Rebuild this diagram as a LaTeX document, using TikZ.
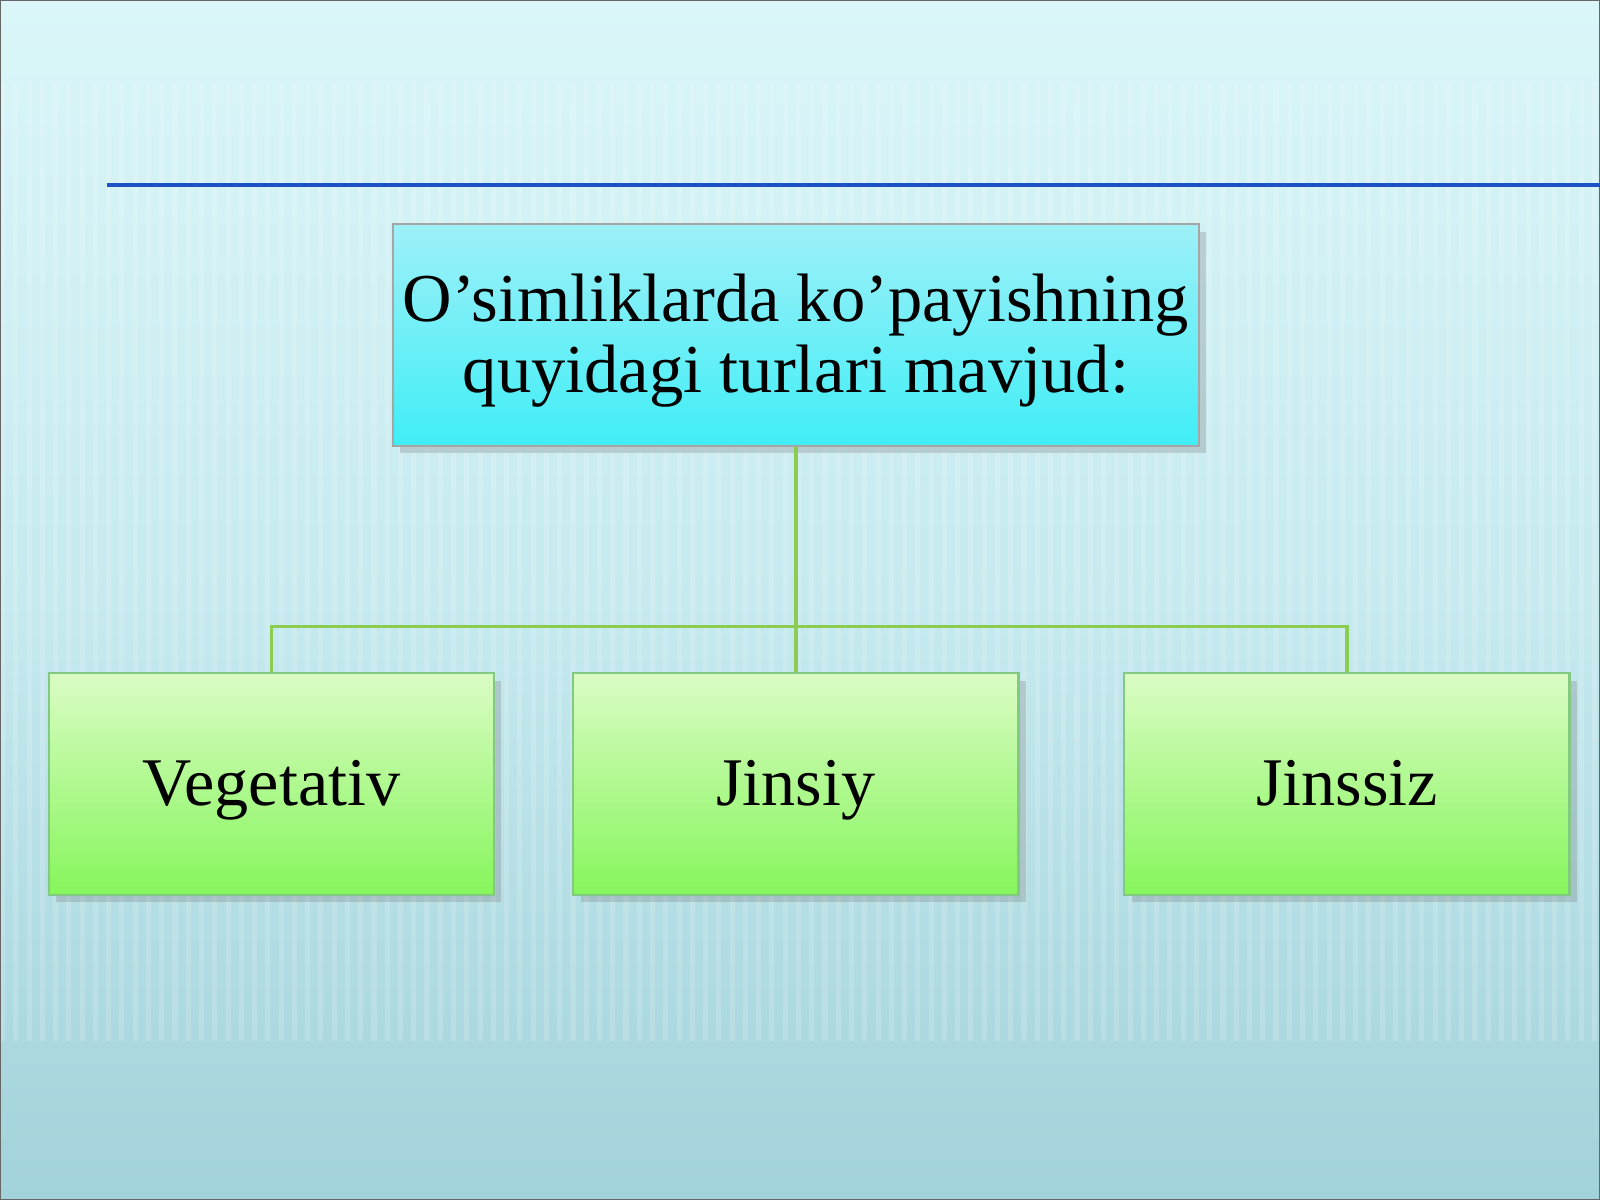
\documentclass[tikz,border=0pt]{standalone}
\usepackage{fontspec}
\setmainfont{Liberation Serif}
\usetikzlibrary{shadows}

\definecolor{bgtop}{HTML}{DAF6F9}
\definecolor{bgmid}{HTML}{C6EAEF}
\definecolor{bgbot}{HTML}{A2D2DA}
\definecolor{headtop}{HTML}{9EF0F8}
\definecolor{headbot}{HTML}{40EEF6}
\definecolor{leaftop}{HTML}{DAFCC4}
\definecolor{leafbot}{HTML}{86F65C}
\definecolor{wire}{HTML}{8CCC52}
\definecolor{rule}{HTML}{1E52C4}
\definecolor{rulestart}{HTML}{8A9CA4}
\pgfdeclarehorizontalshading{rulefade}{100bp}{color(0bp)=(rulestart); color(8bp)=(rulestart); color(18bp)=(rule); color(100bp)=(rule)}

\tikzset{
  head/.style={draw=gray!70, line width=0.6pt, top color=headtop, bottom color=headbot,
    minimum width=7.9cm, minimum height=2.17cm, align=center, inner sep=0pt,
    text depth=1.2pt,
    drop shadow={shadow xshift=2pt, shadow yshift=-2pt, opacity=.3},
    font=\fontsize{19.1}{19.9}\selectfont},
  leaf/.style={draw=gray!60!green!70, line width=0.6pt, top color=leaftop, bottom color=leafbot,
    minimum width=4.36cm, minimum height=2.17cm, inner sep=0pt,
    text height=15pt, text depth=3.2pt,
    drop shadow={shadow xshift=2pt, shadow yshift=-2pt, opacity=.3},
    font=\fontsize{19}{19.9}\selectfont},
  link/.style={draw=wire, line width=1pt}
}

\begin{document}
\begin{tikzpicture}[x=0.01cm, y=-0.01cm]
        
        % Background and frame:
        \useasboundingbox (0,0) rectangle (1568,1176);
        \shade[top color=bgtop, bottom color=bgbot, middle color=bgmid] (0,0) rectangle (1568,1176);
        \foreach \x in {0,13,...,1560}
            \fill[white, opacity=.16] (\x,80) rectangle ++(5,940);
        \draw[gray!80!black, line width=0.5pt] (0.5,0.5) rectangle (1567.5,1175.5);
        \shade[shading=rulefade] (105,179.5) rectangle (1568,182.5);
        
        % Nodes:
        \node[head] (kind) at (780,328.5) {O’simliklarda ko’payishning\\quyidagi turlari mavjud:};
        \node[leaf] (veg) at (266,768.5) {Vegetativ};
        \node[leaf] (jin) at (780,768.5) {Jinsiy};
        \node[leaf] (jsz) at (1320,768.5) {Jinssiz};
        \coordinate (bus) at (780,614);
        
        % Wires:
        \draw[link] (kind.south) -- (jin.north);
        \draw[link] (veg.north) |- (bus) -| (jsz.north);
    \end{tikzpicture}
\end{document}
